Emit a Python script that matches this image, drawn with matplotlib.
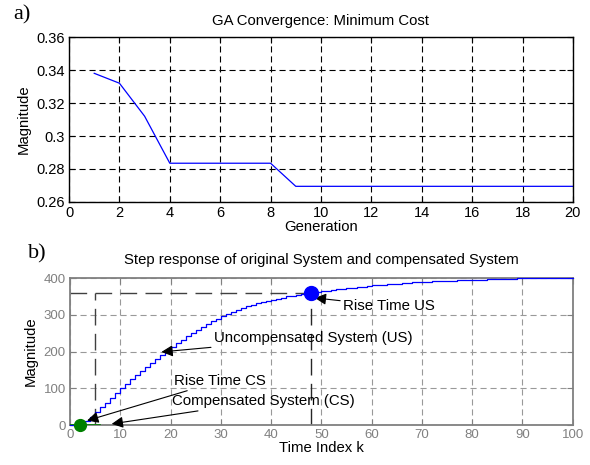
import numpy as np
import matplotlib.pyplot as plt

plt.rcParams['font.family'] = ['Liberation Sans', 'DejaVu Sans']

# a) GA convergence
generation = list(range(1, 21))
min_cost = [0.338, 0.332, 0.312, 0.2835, 0.2835, 0.2835, 0.2835, 0.2835,
            0.2695, 0.2695, 0.2695, 0.2695, 0.2695, 0.2695, 0.2695, 0.2695,
            0.2695, 0.2695, 0.2695, 0.2695]

# b) step responses (one value per time index)
us_resp = [0, 0, 2, 10, 22, 35, 48, 61, 74, 87,
           100, 112, 124, 136, 147, 158, 169, 180, 190, 200,
           212, 222, 232, 241, 250, 259, 267, 275, 282, 289,
           296, 302, 308, 313, 318, 323, 327, 331, 335, 338,
           341, 344, 347, 350, 352, 354, 356, 358, 360, 362,
           364, 366, 368, 370, 371, 373, 374, 376, 377, 378,
           380, 381, 382, 383, 384, 385, 386, 387, 388, 388,
           389, 390, 391, 391, 392, 393, 393, 394, 394, 395,
           395, 396, 396, 397, 397, 397, 398, 398, 398, 399,
           399, 400, 400, 400, 400, 400, 400, 400, 400, 400, 400]
cs_k = [0, 1, 2, 3, 4, 5, 6]
cs_resp = [0, 1, 1, 1, 1, 1, 1]
rise_us = (48, 360)
rise_cs = (2, 1)
rise_cs_line = 5

fig = plt.figure(figsize=(5.9, 4.65), dpi=100)

# ---------------- a)
ax1 = fig.add_axes([0.117, 0.5656, 0.854, 0.3548])
ax1.plot(generation, min_cost, color='b', lw=0.9)
ax1.set_xlim(0, 20)
ax1.set_ylim(0.26, 0.36)
ax1.set_xticks(np.arange(0, 21, 2))
ax1.set_yticks([0.26, 0.28, 0.3, 0.32, 0.34, 0.36])
ax1.set_yticklabels(['0.26', '0.28', '0.3', '0.32', '0.34', '0.36'])
ax1.grid(True, color='k', ls=(0, (5.5, 3.5)), lw=0.8)
ax1.tick_params(direction='in', top=True, right=True, labelsize=10.5, length=4, pad=3)
for s in ax1.spines.values():
    s.set_linewidth(1.0)
ax1.set_title('GA Convergence: Minimum Cost', fontsize=10.7, pad=9)
ax1.set_xlabel('Generation', fontsize=10.7, labelpad=0)
ax1.set_ylabel('Magnitude', fontsize=10.7, labelpad=4)
fig.text(0.037, 0.968, 'a)', family='Liberation Serif', fontsize=16, ha='center', va='center')

# ---------------- b)
ax2 = fig.add_axes([0.1186, 0.086, 0.852, 0.316])
k = np.arange(len(us_resp))
ax2.step(k, us_resp, where='post', color='b', lw=0.9, clip_on=False, zorder=3)
ax2.step(cs_k, cs_resp, where='post', color='g', lw=1.2, zorder=3)

dash = (0, (12, 6))
ax2.plot([0, rise_us[0]], [rise_us[1], rise_us[1]], color='0.25', ls=dash, lw=1.0)
ax2.plot([rise_us[0], rise_us[0]], [0, rise_us[1]], color='0.15', ls=dash, lw=1.0)
ax2.plot([rise_cs_line, rise_cs_line], [0, rise_us[1]], color='0.25', ls=dash, lw=1.0)

ax2.plot(*rise_us, 'o', color='b', ms=10, zorder=4)
ax2.plot(rise_cs[0], 0, 'o', color='g', ms=8.5, zorder=4, clip_on=False)

ax2.set_xlim(0, 100)
ax2.set_ylim(0, 400)
ax2.set_xticks(np.arange(0, 101, 10))
ax2.set_yticks(np.arange(0, 401, 100))
ax2.grid(True, color='0.6', ls=(0, (5.5, 3.5)), lw=0.8)
ax2.tick_params(direction='in', top=True, right=True, labelsize=9.5,
                labelcolor='0.5', color='0.5', length=4, pad=3)
for s in ax2.spines.values():
    s.set_color('0.5')
    s.set_linewidth(1.3)
ax2.set_title('Step response of original System and compensated System', fontsize=10.7, pad=10)
ax2.set_xlabel('Time Index k', fontsize=10.7, labelpad=0)
ax2.set_ylabel('Magnitude', fontsize=10.7, labelpad=4)
fig.text(0.064, 0.455, 'b)', family='Liberation Serif', fontsize=16, ha='center', va='center')

arrow = dict(arrowstyle='-|>', color='k', lw=0.8, mutation_scale=17, shrinkA=0, shrinkB=0)
ax2.annotate('Rise Time US', xy=(48.7, 346), xytext=(54.3, 324), fontsize=10.8,
             ha='left', va='center', arrowprops=arrow)
ax2.annotate('Uncompensated System (US)', xy=(18.2, 199), xytext=(28.6, 237), fontsize=10.8,
             ha='left', va='center', arrowprops=arrow)
ax2.annotate('Rise Time CS', xy=(3.4, 12), xytext=(20.7, 120), fontsize=10.8,
             ha='left', va='center', arrowprops=arrow)
ax2.annotate('Compensated System (CS)', xy=(8.3, 3), xytext=(20.2, 65), fontsize=10.8,
             ha='left', va='center', arrowprops=arrow)

fig.savefig('out.png', dpi=100)
